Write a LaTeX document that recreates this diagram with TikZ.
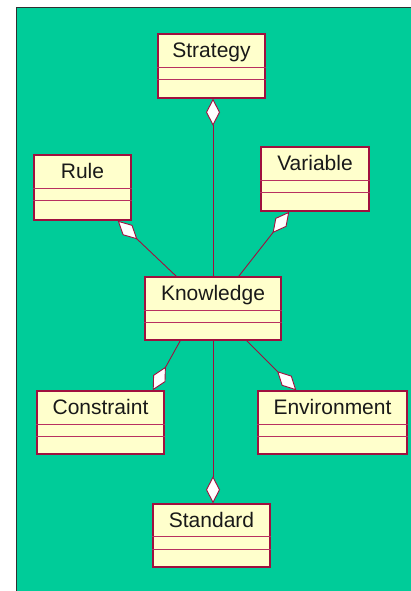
\documentclass[tikz,border=0pt]{standalone}
\usepackage{fontspec}
\setmainfont{Liberation Sans}
\usetikzlibrary{arrows.meta}

\definecolor{canvas}{HTML}{00CC99}
\definecolor{classfill}{HTML}{FFFFCC}
\definecolor{classline}{HTML}{A0103F}
\definecolor{divline}{HTML}{B83060}
\definecolor{framegray}{HTML}{303030}

\tikzset{
  classbox/.style={draw=classline, fill=classfill, line width=1.5pt,
    rectangle, inner sep=0pt},
  classname/.style={font=\fontsize{21}{23}\selectfont, text=black!90,
    inner sep=0pt},
  divider/.style={draw=divline, line width=1pt},
  aggregation/.style={draw=classline, line width=0.9pt,
    -{Diamond[length=27pt, width=14pt, fill=white, line width=0.9pt]}},
}

% \umlclass{name}{centre x}{centre y}{width}{height}{top compartment}{middle compartment}{label}
\newcommand{\umlclass}[8]{%
  \node[classbox, minimum width=#4pt, minimum height=#5pt] (#1) at (#2,#3) {};
  \draw[divider] ([yshift=-#6pt]#1.north west) -- ([yshift=-#6pt]#1.north east);
  \draw[divider] ([yshift=-#6pt-#7pt]#1.north west) -- ([yshift=-#6pt-#7pt]#1.north east);
  \node[classname, anchor=base] (#1-label) at ([yshift=-#6pt/2-7.5pt]#1.north) {#8};
}

\begin{document}
\begin{tikzpicture}[x=1pt, y=-1pt]
  \useasboundingbox (0,0) rectangle (411,591);
  \fill[white] (0,0) rectangle (411,591);
  % diagram canvas with its frame on the left and top
  \fill[canvas] (17,8) rectangle (412,592);
  \draw[framegray, line width=1.5pt] (16.5,592) -- (16.5,7.5) -- (412,7.5);

  % classes
  \umlclass{strategy}{211.5}{66}{107}{64}{34}{12}{Strategy}
  \umlclass{rule}{82.5}{187.5}{97}{65}{34}{12}{Rule}
  \umlclass{variable}{315}{179}{108}{64}{34}{12}{Variable}
  \umlclass{knowledge}{213}{308.5}{136}{63}{34}{12}{Knowledge}
  \umlclass{constraint}{100.5}{422.5}{127}{63}{34}{12}{Constraint}
  \umlclass{environment}{332.5}{422.5}{149}{63}{34}{12}{Environment}
  \umlclass{standard}{211.5}{535.5}{117}{63}{33}{13}{Standard}

  % aggregations, diamond at the whole
  \draw[aggregation] (knowledge.north) -- (knowledge.north |- strategy.south);
  \draw[aggregation] ([xshift=32pt]knowledge.north west) -- ([xshift=-14pt]rule.south east);
  \draw[aggregation] ([xshift=-43pt]knowledge.north east) -- ([xshift=29pt]variable.south west);
  \draw[aggregation] ([xshift=36pt]knowledge.south west) -- ([xshift=-12pt]constraint.north east);
  \draw[aggregation] ([xshift=-35pt]knowledge.south east) -- ([xshift=39pt]environment.north west);
  \draw[aggregation] (knowledge.south) -- (knowledge.south |- standard.north);
\end{tikzpicture}
\end{document}
